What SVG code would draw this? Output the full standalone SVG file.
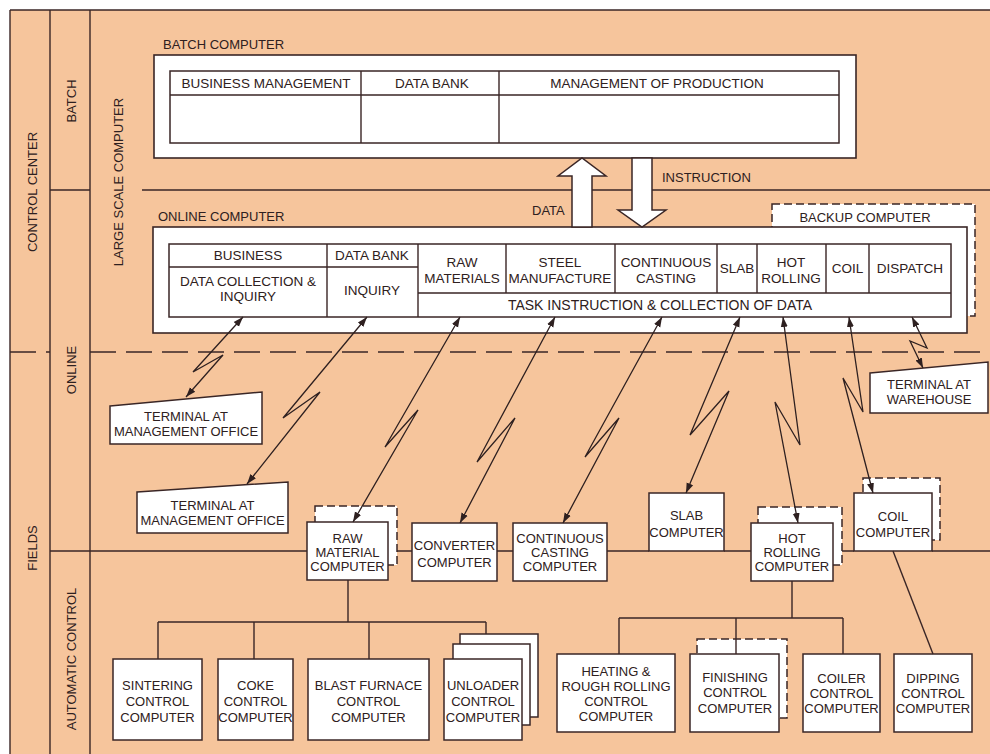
<svg xmlns="http://www.w3.org/2000/svg" width="990" height="754" viewBox="0 0 990 754">
<defs>
<marker id="ah" viewBox="0 0 10 10" refX="10" refY="5" markerWidth="10" markerHeight="10" markerUnits="userSpaceOnUse" orient="auto-start-reverse"><path d="M0,1.5 L10,5 L0,8.5 z" fill="#2e2020"/></marker>
<style>
.ln{stroke:#3a2626;stroke-width:1.4;fill:none}
.dl{stroke:#3a2626;stroke-width:1.4;fill:none;stroke-dasharray:26 10}
.bx{fill:#fff;stroke:#3a2626;stroke-width:1.5}
.big{fill:#fff;stroke:#3a2626;stroke-width:1.6}
.dbx{fill:#fff;stroke:#3a2626;stroke-width:1.5;stroke-dasharray:8 4}
text{font-family:"Liberation Sans",Arial,sans-serif;font-size:13px;fill:#2e2020;text-anchor:middle}
.st{text-anchor:start}
.tb{font-size:13.5px}
.c{stroke:#2e2020;stroke-width:1.3;fill:none;marker-start:url(#ah);marker-end:url(#ah)}
</style>
</defs>
<rect x="0" y="0" width="990" height="754" fill="#fff"/>
<rect x="10" y="10" width="980" height="744" fill="#F6C59C"/>
<g id="frame">
<path class="ln" d="M10,10 H990 M10,10 V754 M50,10 V754 M90,10 V754 M50,190 H90 M142,190 H990 M50,551 H90"/>
<path class="dl" d="M10,352 H50 M90,352 H990"/>
<text transform="rotate(-90 37 192)" x="37" y="192">CONTROL CENTER</text>
<text transform="rotate(-90 37 548)" x="37" y="548">FIELDS</text>
<text transform="rotate(-90 76 101)" x="76" y="101">BATCH</text>
<text transform="rotate(-90 76 370)" x="76" y="370">ONLINE</text>
<text transform="rotate(-90 76 659)" x="76" y="659">AUTOMATIC CONTROL</text>
<text transform="rotate(-90 123 182)" x="123" y="182">LARGE SCALE COMPUTER</text>
</g>
<g id="batch-computer">
<text class="st" x="163" y="49">BATCH COMPUTER</text>
<rect class="big" x="154" y="55" width="702" height="103"/>
<rect class="bx" x="170" y="71" width="669" height="72"/>
<path class="ln" d="M170,95 H839 M361,71 V143 M499,71 V143"/>
<text class="tb" x="266" y="88">BUSINESS MANAGEMENT</text>
<text class="tb" x="432" y="88">DATA BANK</text>
<text class="tb" x="657" y="88">MANAGEMENT OF PRODUCTION</text>
</g>
<g id="backup-computer">
<rect class="dbx" x="772" y="204" width="203" height="112"/>
<text x="865" y="222">BACKUP COMPUTER</text>
</g>
<g id="online-computer">
<text class="st" x="158" y="221">ONLINE COMPUTER</text>
<rect class="big" x="153" y="227" width="814" height="106"/>
<rect class="bx" x="169" y="244" width="782" height="73"/>
<path class="ln" d="M169,267 H418 M418,293 H951 M327,244 V317 M418,244 V317 M506,244 V293 M615,244 V293 M717,244 V293 M757,244 V293 M826,244 V293 M869,244 V293"/>
<text class="tb" x="248" y="260">BUSINESS</text>
<text class="tb" x="372" y="260">DATA BANK</text>
<text class="tb" x="248" y="286">DATA COLLECTION &amp;</text>
<text class="tb" x="248" y="301">INQUIRY</text>
<text class="tb" x="372" y="295">INQUIRY</text>
<text class="tb" x="462" y="267">RAW</text>
<text class="tb" x="462" y="283">MATERIALS</text>
<text class="tb" x="560" y="267">STEEL</text>
<text class="tb" x="560" y="283">MANUFACTURE</text>
<text class="tb" x="666" y="267">CONTINUOUS</text>
<text class="tb" x="666" y="283">CASTING</text>
<text class="tb" x="737" y="273">SLAB</text>
<text class="tb" x="791" y="267">HOT</text>
<text class="tb" x="791" y="283">ROLLING</text>
<text class="tb" x="847.5" y="273">COIL</text>
<text class="tb" x="910" y="273">DISPATCH</text>
<text x="660" y="310" style="font-size:14px">TASK INSTRUCTION &amp; COLLECTION OF DATA</text>
</g>
<g id="data-flow">
<polygon class="bx" points="572,227 572,176 558,176 582,158 606,176 592,176 592,227"/>
<polygon class="bx" points="632,158 652,158 652,210 666,210 642,227 618,210 632,210"/>
<text class="st" x="532" y="215">DATA</text>
<text class="st" x="662" y="182">INSTRUCTION</text>
</g>
<g id="terminal-1">
<polygon class="bx" points="110,406 262,392 262,444 110,444"/>
<text x="186" y="421">TERMINAL AT</text>
<text x="186" y="436">MANAGEMENT OFFICE</text>
</g>
<g id="terminal-2">
<polygon class="bx" points="137,492 288,482 288,533 137,533"/>
<text x="212.5" y="510">TERMINAL AT</text>
<text x="212.5" y="525">MANAGEMENT OFFICE</text>
</g>
<g id="terminal-warehouse">
<polygon class="bx" points="870,373 988,362 988,413 870,413"/>
<text x="929" y="389">TERMINAL AT</text>
<text x="929" y="404">WAREHOUSE</text>
</g>
<g id="raw-material-computer">
<rect class="dbx" x="315" y="506" width="82" height="59"/>
<rect class="bx" x="307" y="522" width="81" height="58"/>
<text x="347.5" y="543">RAW</text>
<text x="347.5" y="557">MATERIAL</text>
<text x="347.5" y="571">COMPUTER</text>
</g>
<g id="converter-computer">
<rect class="bx" x="412" y="523" width="85" height="58"/>
<text x="454.5" y="550">CONVERTER</text>
<text x="454.5" y="567">COMPUTER</text>
</g>
<g id="continuous-casting-computer">
<rect class="bx" x="513" y="523" width="94" height="58"/>
<text x="560" y="543">CONTINUOUS</text>
<text x="560" y="557">CASTING</text>
<text x="560" y="571">COMPUTER</text>
</g>
<g id="slab-computer">
<rect class="bx" x="649" y="493" width="75" height="58"/>
<text x="686.5" y="520">SLAB</text>
<text x="686.5" y="537">COMPUTER</text>
</g>
<g id="hot-rolling-computer">
<rect class="dbx" x="758" y="507" width="84" height="58"/>
<rect class="bx" x="751" y="523" width="82" height="58"/>
<text x="792" y="543">HOT</text>
<text x="792" y="557">ROLLING</text>
<text x="792" y="571">COMPUTER</text>
</g>
<g id="coil-computer">
<rect class="dbx" x="863" y="478" width="77" height="62"/>
<rect class="bx" x="854" y="493" width="78" height="58"/>
<text x="893" y="521">COIL</text>
<text x="893" y="537">COMPUTER</text>
</g>
<g id="sintering">
<rect class="bx" x="113" y="659" width="89" height="81"/>
<text x="157.5" y="690">SINTERING</text>
<text x="157.5" y="706">CONTROL</text>
<text x="157.5" y="722">COMPUTER</text>
</g>
<g id="coke">
<rect class="bx" x="218" y="659" width="75" height="81"/>
<text x="255.5" y="690">COKE</text>
<text x="255.5" y="706">CONTROL</text>
<text x="255.5" y="722">COMPUTER</text>
</g>
<g id="blast-furnace">
<rect class="bx" x="308" y="659" width="121" height="81"/>
<text x="368.5" y="690">BLAST FURNACE</text>
<text x="368.5" y="706">CONTROL</text>
<text x="368.5" y="722">COMPUTER</text>
</g>
<g id="unloader">
<rect class="bx" x="460" y="634" width="78" height="83"/>
<rect class="bx" x="453" y="644" width="77" height="81"/>
<rect class="bx" x="444" y="659" width="78" height="81"/>
<text x="483" y="690">UNLOADER</text>
<text x="483" y="706">CONTROL</text>
<text x="483" y="722">COMPUTER</text>
</g>
<g id="heating">
<rect class="bx" x="557" y="654" width="118" height="78"/>
<text x="616" y="676">HEATING &amp;</text>
<text x="616" y="691">ROUGH ROLLING</text>
<text x="616" y="706">CONTROL</text>
<text x="616" y="721">COMPUTER</text>
</g>
<g id="finishing">
<rect class="dbx" x="697" y="639" width="90" height="79"/>
<rect class="bx" x="690" y="654" width="89" height="78"/>
<text x="735" y="682">FINISHING</text>
<text x="735" y="697">CONTROL</text>
<text x="735" y="713">COMPUTER</text>
</g>
<g id="coiler">
<rect class="bx" x="803" y="654" width="77" height="78"/>
<text x="841.5" y="683">COILER</text>
<text x="841.5" y="698">CONTROL</text>
<text x="841.5" y="713">COMPUTER</text>
</g>
<g id="dipping">
<rect class="bx" x="894" y="654" width="78" height="78"/>
<text x="933" y="683">DIPPING</text>
<text x="933" y="698">CONTROL</text>
<text x="933" y="713">COMPUTER</text>
</g>
<g id="connectors">
<path class="ln" d="M90,551 H307 M397,551 H412 M497,551 H513 M607,551 H649 M724,551 H751 M842,551 H854 M932,551 H990"/>
<path class="ln" d="M348,580 V622 M158,622 H486 M158,622 V659 M254,622 V659 M369,622 V659 M486,622 V634"/>
<path class="ln" d="M792,581 V618 M619,618 H843 M619,618 V654 M736,618 V654 M843,618 V654"/>
<path class="ln" d="M893,551 L933,654"/>
<path class="c" d="M243,317 L193,372 L223,355 L186,397"/>
<path class="c" d="M367,317 L283,418 L320,392 L247,484"/>
<path class="c" d="M460,317 L385,447 L418,410 L353,522"/>
<path class="c" d="M555,317 L477,462 L515,418 L460,523"/>
<path class="c" d="M662,317 L585,457 L619,418 L563,523"/>
<path class="c" d="M740,317 L690,435 L729,391 L686,493"/>
<path class="c" d="M783,317 L800,445 L775,402 L798,523"/>
<path class="c" d="M849,317 L863,412 L843,378 L873,493"/>
<path class="c" d="M912,317 L927,348 L910,341 L923,368"/>
</g>
</svg>
